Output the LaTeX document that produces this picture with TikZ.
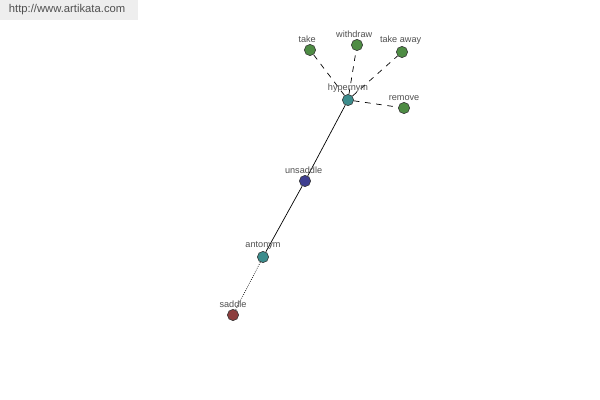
\documentclass[tikz,border=0pt]{standalone}
\usepackage{fontspec}
\setmainfont{Liberation Sans}
\usetikzlibrary{positioning}
\definecolor{artGreen}{HTML}{4E8C44}
\definecolor{artTeal}{HTML}{3C8C8C}
\definecolor{artBlue}{HTML}{3E3E90}
\definecolor{artRed}{HTML}{8C3E3E}
\definecolor{artText}{HTML}{505050}
\definecolor{artBar}{HTML}{EEEEEE}
\tikzset{
  artnode/.style={circle,draw=black!80,line width=0.4pt,minimum size=8pt,
                  inner sep=0pt},
  artleaf/.style={artnode,fill=artGreen},
  arthyper/.style={artnode,fill=artTeal},
  artword/.style={artnode,fill=artBlue},
  artopp/.style={artnode,fill=artRed},
  artlabel/.style={font=\fontsize{6.5}{7}\selectfont,text=artText,inner sep=0pt},
  artdash/.style={dashed,dash pattern=on 4pt off 4pt,line width=0.5pt},
  artlink/.style={line width=0.5pt}
}

\begin{document}
\begin{tikzpicture}[x=0.025cm,y=-0.025cm]
    \useasboundingbox[fill=white] (0,0) rectangle (600,400);
    \node[fill=artBar,minimum width=3.45cm,minimum height=0.5cm,anchor=north west,
          inner sep=0pt] (bar) at (0,0) {};
    \node[font=\fontsize{8}{9}\selectfont,text=artText,anchor=west]
      (site) at (4,10) {http://www.artikata.com};

    \node[arthyper] (hyp) at (348,100) {};
    \node[artleaf] (take) at (310,50) {};
    \node[artleaf] (withdraw) at (357,45) {};
    \node[artleaf] (takeaway) at (402,52) {};
    \node[artleaf] (remove) at (404,108) {};
    \node[artword] (unsaddle) at (305,181) {};
    \node[arthyper] (ant) at (263,257) {};
    \node[artopp] (saddle) at (233,315) {};

    \draw[artdash] (hyp) -- (take);
    \draw[artdash] (hyp) -- (withdraw);
    \draw[artdash] (hyp) -- (takeaway);
    \draw[artdash] (hyp) -- (remove);
    \draw[artlink] (hyp) -- (unsaddle);
    \draw[artlink] (unsaddle) -- (ant);
    \draw[artlink,densely dotted] (ant) -- (saddle);

    \node[artlabel,above=1pt of hyp] {hypernym};
    \node[artlabel,above=1pt of take,xshift=-2pt] {take};
    \node[artlabel,above=1pt of withdraw,xshift=-2pt] {withdraw};
    \node[artlabel,above=1pt of takeaway,xshift=-1pt] {take away};
    \node[artlabel,above=1pt of remove] {remove};
    \node[artlabel,above=1pt of unsaddle,xshift=-1pt] {unsaddle};
    \node[artlabel,above=1pt of ant] {antonym};
    \node[artlabel,above=1pt of saddle] {saddle};
  \end{tikzpicture}
\end{document}
